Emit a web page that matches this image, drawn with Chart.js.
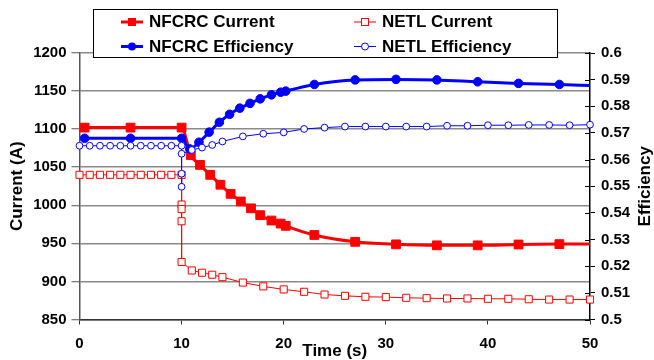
<!DOCTYPE html>
<html><head><meta charset="utf-8">
<script src="https://cdn.jsdelivr.net/npm/chart.js@4"></script>
<style>html,body{margin:0;padding:0;background:#fff;} canvas{display:block;}</style>
</head><body>
<canvas id="c" width="654" height="360"></canvas>
<script>
// ---- Data ----
const nfcrcCurrentTime = [0.5, 5, 10, 10.9, 11.8, 12.8, 13.8, 14.8, 15.8, 16.8, 17.7, 18.8, 19.7, 20.2, 23, 27, 31, 35, 39, 43, 47, 50];
const nfcrcCurrent     = [1102, 1102, 1102, 1066, 1053, 1040, 1027, 1015, 1005, 996, 987, 980, 976, 973, 961, 952, 948.7, 947.4, 947.4, 948.5, 949, 949];

const netlCurrentTime = [0,1,2,3,4,5,6,7,8,9,10,10,10,10,10,11,12,13,14,16,18,20,22,24,26,28,30,32,34,36,38,40,42,44,46,48,50];
const netlCurrent     = [1040,1040,1040,1040,1040,1040,1040,1040,1040,1040,1040,1001,995,979,925.5,914.4,911.4,908.8,905.6,898.5,893.5,889.5,886.4,882.8,881.1,879.8,879.4,878.5,878,877.6,877.6,877.2,877.2,876.6,876.2,876.2,876.2];

const nfcrcEffTime = [0.5, 5, 10, 10.8, 11.7, 12.7, 13.7, 14.7, 15.7, 16.7, 17.7, 18.8, 19.7, 20.2, 23, 27, 31, 35, 39, 43, 47, 50];
const nfcrcEff     = [0.568, 0.568, 0.568, 0.564, 0.5665, 0.5703, 0.574, 0.577, 0.5793, 0.5811, 0.5828, 0.5843, 0.5853, 0.5857, 0.5882, 0.5899, 0.5901, 0.5899, 0.5892, 0.5886, 0.5882, 0.5878];

const netlEffTime = [0,1,2,3,4,5,6,7,8,9,10,10,10,10,11,12,13,14,16,18,20,22,24,26,28,30,32,34,36,38,40,42,44,46,48,50];
const netlEff     = [0.5652,0.5652,0.5652,0.5652,0.5652,0.5652,0.5652,0.5652,0.5652,0.5652,0.5652,0.5547,0.5498,0.5622,0.5636,0.5645,0.5655,0.5668,0.5687,0.5697,0.5702,0.5715,0.572,0.5724,0.5724,0.5724,0.5724,0.5724,0.5727,0.5727,0.5729,0.5729,0.573,0.573,0.5729,0.5731];

const xTicks = [0, 10, 20, 30, 40, 50];
const currentRange = [850, 1200];
const effRange = [0.5, 0.6];
const rightTitle = 'Efficiency';

const toXY = (xs, ys) => xs.map((x, i) => ({x: x, y: ys[i]}));
const FONT = '"Liberation Sans", Arial, sans-serif';
const RED = '#ff0000', BLUE = '#0000ff';

const legendPlugin = {
  id: 'boxLegend',
  afterDraw(chart) {
    const ctx = chart.ctx;
    const r = chart.scales.y1;
    ctx.save();
    // inner half of the right-axis tick marks
    ctx.strokeStyle = '#000'; ctx.lineWidth = 1;
    r.ticks.forEach((t, i) => {
      const y = Math.round(r.getPixelForTick(i)) + 0.5;
      ctx.beginPath(); ctx.moveTo(r.left - 5, y); ctx.lineTo(r.left, y); ctx.stroke();
    });
    // right axis title, reading bottom-to-top
    ctx.save();
    ctx.translate(645, (chart.chartArea.top + chart.chartArea.bottom) / 2);
    ctx.rotate(-Math.PI / 2);
    ctx.font = 'bold 17px ' + FONT; ctx.fillStyle = '#000';
    ctx.textAlign = 'center'; ctx.textBaseline = 'middle';
    ctx.fillText(rightTitle, 0, 0);
    ctx.restore();
    // legend box
    const bx = 93.5, by = 9.5, bw = 464, bh = 48;
    ctx.fillStyle = '#fff'; ctx.fillRect(bx, by, bw, bh);
    ctx.strokeStyle = '#000'; ctx.lineWidth = 1; ctx.strokeRect(bx, by, bw, bh);
    const items = chart.data.datasets;
    const pos = [[121, 22], [354, 22], [121, 46.5], [354, 46.5]];
    ctx.font = 'bold 17px ' + FONT; ctx.textBaseline = 'middle'; ctx.textAlign = 'left';
    items.forEach((d, i) => {
      const [lx, ly] = pos[i];
      const thick = d.borderWidth > 2;
      ctx.strokeStyle = d.borderColor; ctx.lineWidth = thick ? 3 : 1;
      ctx.beginPath(); ctx.moveTo(lx, ly); ctx.lineTo(lx + 22, ly); ctx.stroke();
      const cx = lx + 11;
      ctx.lineWidth = 1;
      if (d.pointStyle === 'rect') {
        const s = thick ? 8 : 7;
        if (d.pointBackgroundColor !== '#fff') { ctx.fillStyle = d.borderColor; ctx.fillRect(cx - s/2, ly - s/2, s, s); }
        else { ctx.fillStyle = '#fff'; ctx.fillRect(cx - s/2, ly - s/2, s, s); ctx.strokeRect(cx - s/2, ly - s/2, s, s); }
      } else {
        ctx.beginPath(); ctx.arc(cx, ly, thick ? 4 : 3.5, 0, Math.PI * 2);
        if (d.pointBackgroundColor !== '#fff') { ctx.fillStyle = d.borderColor; ctx.fill(); }
        else { ctx.fillStyle = '#fff'; ctx.fill(); ctx.stroke(); }
      }
      ctx.fillStyle = '#000';
      ctx.fillText(d.label, lx + 28, ly + 0.5);
    });
    ctx.restore();
  }
};

new Chart(document.getElementById('c'), {
  type: 'line',
  data: {
    datasets: [
      { label: 'NFCRC Current', data: toXY(nfcrcCurrentTime, nfcrcCurrent), yAxisID: 'y',
        borderColor: RED, backgroundColor: RED, borderWidth: 3, pointStyle: 'rect',
        pointRadius: nfcrcCurrentTime.map((t, i) => i === nfcrcCurrentTime.length - 1 ? 0 : 6.2),
        pointBackgroundColor: RED, pointBorderColor: RED, pointBorderWidth: 1,
        cubicInterpolationMode: 'monotone', tension: 0.4, order: 4, clip: 12 },
      { label: 'NETL Current', data: toXY(netlCurrentTime, netlCurrent), yAxisID: 'y',
        borderColor: RED, backgroundColor: '#fff', borderWidth: 1, pointStyle: 'rect',
        pointRadius: 5, pointBackgroundColor: '#fff', pointBorderColor: RED, pointBorderWidth: 1,
        tension: 0, order: 3, clip: 12 },
      { label: 'NFCRC Efficiency', data: toXY(nfcrcEffTime, nfcrcEff), yAxisID: 'y1',
        borderColor: BLUE, backgroundColor: BLUE, borderWidth: 3, pointStyle: 'circle',
        pointRadius: nfcrcEffTime.map((t, i) => i === nfcrcEffTime.length - 1 ? 0 : 4.3),
        pointBackgroundColor: BLUE, pointBorderColor: BLUE, pointBorderWidth: 1,
        cubicInterpolationMode: 'monotone', tension: 0.4, order: 2, clip: 12 },
      { label: 'NETL Efficiency', data: toXY(netlEffTime, netlEff), yAxisID: 'y1',
        borderColor: BLUE, backgroundColor: '#fff', borderWidth: 1, pointStyle: 'circle',
        pointRadius: 3.4, pointBackgroundColor: '#fff', pointBorderColor: BLUE, pointBorderWidth: 1,
        tension: 0, order: 1, clip: 12 }
    ]
  },
  options: {
    responsive: false, animation: false, events: [],
    layout: { padding: { top: 53, left: 0, right: 0, bottom: 0 } },
    plugins: { legend: { display: false }, tooltip: { enabled: false } },
    scales: {
      x: {
        type: 'linear', min: 0, max: 50,
        afterBuildTicks: s => { s.ticks = xTicks.map(v => ({value: v})); },
        afterFit: s => { s.height = 40.5; },
        grid: { drawOnChartArea: false, tickLength: 5, tickColor: '#333', tickWidth: 1 },
        border: { color: '#333', width: 1.5 },
        ticks: { color: '#000', font: { family: FONT, size: 15, weight: 'bold' }, padding: 10, maxRotation: 0,
          callback: v => String(v) },
        title: { display: true, text: 'Time (s)', color: '#000', font: { family: FONT, size: 17, weight: 'bold', lineHeight: 1 }, padding: { top: 0, bottom: 0 } }
      },
      y: {
        type: 'linear', position: 'left', min: currentRange[0], max: currentRange[1],
        ticks: { stepSize: 50, color: '#000', font: { family: FONT, size: 15, weight: 'bold' }, padding: 5,
          callback: v => String(v) },
        afterFit: s => { s.width = 79.5; },
        grid: { color: '#8a8a8a', lineWidth: 1.5, tickLength: 8, tickColor: '#555', tickWidth: 1 },
        border: { color: '#555', width: 1.5 },
        title: { display: true, text: 'Current (A)', color: '#000', font: { family: FONT, size: 17, weight: 'bold', lineHeight: 1 }, padding: { top: 9, bottom: 0 } }
      },
      y1: {
        type: 'linear', position: 'right', min: effRange[0], max: effRange[1],
        ticks: { stepSize: 0.01, color: '#000', font: { family: FONT, size: 15, weight: 'bold' }, padding: 6,
          callback: v => String(parseFloat(Number(v).toFixed(2))) },
        afterFit: s => { s.width = 64; },
        grid: { drawOnChartArea: false, tickLength: 5, tickColor: '#000', tickWidth: 1 },
        border: { color: '#000', width: 1.5 },
        title: { display: false }
      }
    }
  },
  plugins: [legendPlugin]
});
</script>
</body></html>
